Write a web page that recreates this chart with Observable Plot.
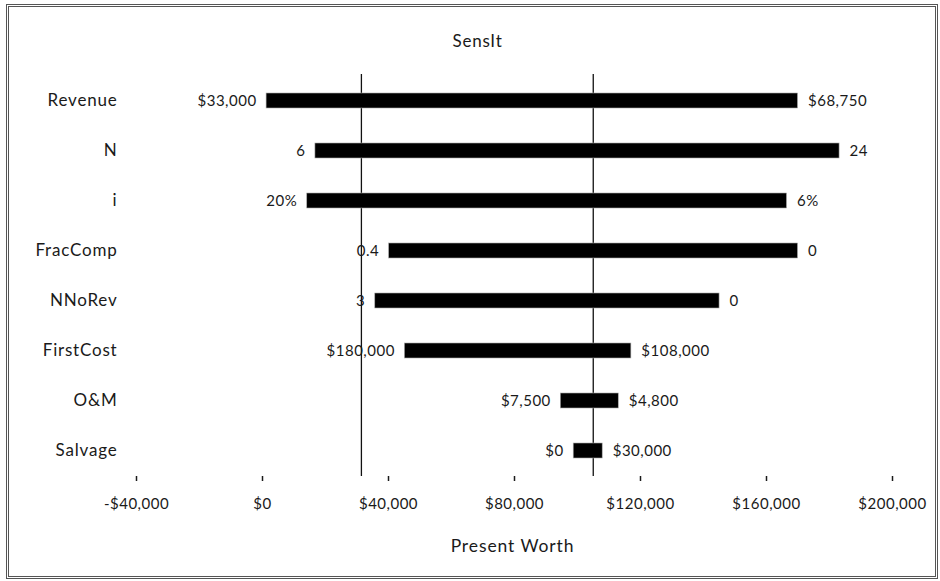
<!DOCTYPE html>
<html>
<head>
<meta charset="utf-8">
<script src="https://cdn.jsdelivr.net/npm/d3@7"></script>
<script src="https://cdn.jsdelivr.net/npm/@observablehq/plot@0.6"></script>
<style>
  html, body { margin: 0; padding: 0; background: #fff; }
  #wrap { position: relative; width: 940px; height: 581px; overflow: hidden; }
  #frame { position: absolute; left: 6px; top: 4px; width: 932px; height: 575px; box-sizing: border-box; border: 3px double #555; pointer-events: none; }
  #chart { position: absolute; left: 0; top: 0; }
  #chart g[font-size="15"] { letter-spacing: 0.5px; }
  #chart g[font-size="17"] { letter-spacing: 0.8px; }
  #chart g[font-size="17.5"] { letter-spacing: 0.9px; }
</style>
</head>
<body>
<div id="wrap"><div id="chart"></div><div id="frame"></div></div>
<script>
// Data
const categories = ["Revenue", "N", "i", "FracComp", "NNoRev", "FirstCost", "O&M", "Salvage"];
const lowPW  = [1300, 16800, 14200, 40200, 35800, 45200, 94700, 98800];
const highPW = [170000, 183200, 166500, 170000, 145100, 117100, 113100, 108000];
const lowLabels  = ["$33,000", "6", "20%", "0.4", "3", "$180,000", "$7,500", "$0"];
const highLabels = ["$68,750", "24", "6%", "0", "0", "$108,000", "$4,800", "$30,000"];
const referenceLines = [31400, 105000];
const xTicks = [-40000, 0, 40000, 80000, 120000, 160000, 200000];
const title = "SensIt";
const xTitle = "Present Worth";

const rows = categories.map((c, i) => ({
  cat: c, low: lowPW[i], high: highPW[i], lowLabel: lowLabels[i], highLabel: highLabels[i]
}));

const fmt = d => (d < 0 ? "-" : "") + "$" + d3.format(",")(Math.abs(d));

const plot = Plot.plot({
  width: 940,
  height: 581,
  marginLeft: 136,
  marginRight: 48,
  marginTop: 74,
  marginBottom: 105,
  style: { fontFamily: "Lato, 'Noto Sans', sans-serif", fontSize: "15px", background: "transparent", color: "#1a1a1a" },
  x: { domain: [-40000, 200000], ticks: xTicks, tickFormat: fmt, label: null, tickSize: 5, tickPadding: 18 },
  y: { domain: categories, paddingInner: 0.7, paddingOuter: 0.35, label: null, tickSize: 0, tickPadding: 19 },
  marks: [
    Plot.ruleX(referenceLines, { stroke: "#111", strokeWidth: 1.3 }),
    Plot.barX(rows, { y: "cat", x1: "low", x2: "high", fill: "#000", stroke: "#aaa", strokeWidth: 0.6 }),
    Plot.text(rows, { y: "cat", x: "low", text: "lowLabel", textAnchor: "end", dx: -10, fontSize: 15, fill: "#1a1a1a" }),
    Plot.text(rows, { y: "cat", x: "high", text: "highLabel", textAnchor: "start", dx: 10, fontSize: 15, fill: "#1a1a1a" }),
    Plot.axisY({ tickSize: 0, tickPadding: 19, fontSize: 17, label: null }),
    Plot.axisX({ ticks: xTicks, tickFormat: fmt, tickSize: 5, tickPadding: 17, strokeWidth: 1.5, fontSize: 15, label: null }),
    Plot.ruleY([0], { frameAnchor: "bottom", stroke: "#111", strokeWidth: 1.5 }),
    Plot.text([title], { frameAnchor: "top", lineAnchor: "middle", dy: -33, dx: -37, fontSize: 17, fill: "#1a1a1a" }),
    Plot.text([xTitle], { frameAnchor: "bottom", lineAnchor: "middle", dy: 70, dx: -2, fontSize: 17.5, fill: "#1a1a1a" })
  ]
});
document.getElementById("chart").appendChild(plot);
</script>
</body>
</html>
